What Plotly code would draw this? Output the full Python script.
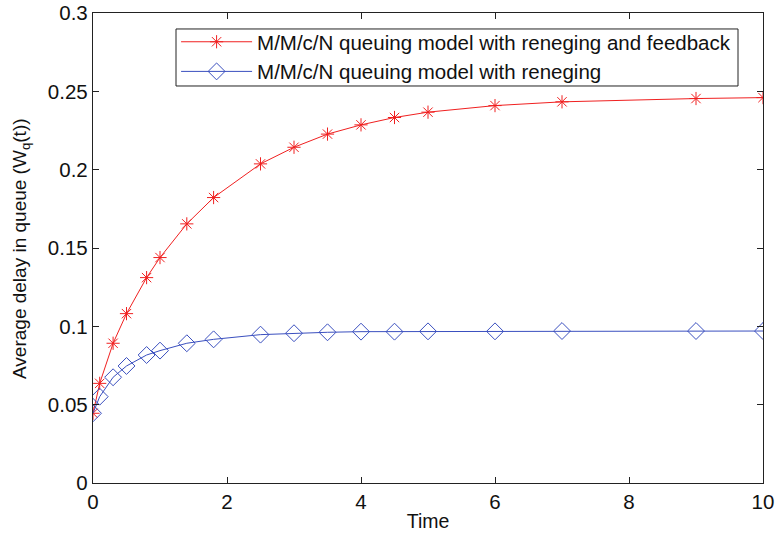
import plotly.graph_objects as go

time = [0, 0.1, 0.3, 0.5, 0.8, 1.0, 1.4, 1.8, 2.5, 3.0, 3.5, 4.0, 4.5, 5.0, 6.0, 7.0, 9.0, 10.0]
wq_feedback = [0.0445, 0.0636, 0.0892, 0.1081, 0.1311, 0.1439, 0.1654, 0.1822, 0.2037,
               0.2143, 0.2227, 0.2286, 0.2333, 0.2367, 0.2409, 0.2433, 0.2454, 0.2460]
wq_reneging = [0.0445, 0.0551, 0.0675, 0.0747, 0.0817, 0.0845, 0.0892, 0.0917, 0.0947,
               0.0956, 0.0962, 0.0966, 0.0966, 0.0968, 0.0968, 0.0970, 0.0970, 0.0970]
names = ["M/M/c/N queuing model with reneging and feedback",
         "M/M/c/N queuing model with reneging"]
x_ticks = [0, 2, 4, 6, 8, 10]
y_ticks = [0, 0.05, 0.1, 0.15, 0.2, 0.25, 0.3]
y_ticktext = ["0", "0.05", "0.1", "0.15", "0.2", "0.25", "0.3"]
x_title = "Time"
y_title = "Average delay in queue (W<sub>q</sub>(t))"

FONT = "Liberation Sans, Arial, Helvetica, sans-serif"
RED = "#f02020"
BLUE = "#3a4fbf"
DARK = "#222222"

fig = go.Figure()
fig.add_trace(go.Scatter(
    x=time, y=wq_feedback, mode="lines+markers", name=names[0],
    line=dict(color=RED, width=1),
    marker=dict(symbol="asterisk-open", size=11, color=RED, line=dict(color=RED, width=1)),
))
fig.add_trace(go.Scatter(
    x=time, y=wq_reneging, mode="lines+markers", name=names[1],
    line=dict(color=BLUE, width=1),
    marker=dict(symbol="diamond-open", size=13, color=BLUE, line=dict(color=BLUE, width=1)),
))

axis_common = dict(
    showgrid=False, zeroline=False, showline=True, linecolor=DARK, linewidth=1.3,
    mirror="ticks", ticks="inside", ticklen=6, tickcolor=DARK, tickwidth=1,
    tickfont=dict(family=FONT, size=20.5, color="#111111"),
    automargin=False, ticklabeloverflow="allow",
)

# legend frame (matlab-style box around the legend entries)
fig.add_shape(type="rect", xref="paper", yref="paper",
              x0=0.1239, x1=0.9627, y0=0.8447, y1=0.966,
              line=dict(color=DARK, width=1), fillcolor="white", layer="above")

fig.add_annotation(text=y_title, textangle=-90, xref="paper", yref="paper",
                   x=-0.1075, y=0.5, xanchor="center", yanchor="middle",
                   showarrow=False, font=dict(family=FONT, size=19, color="#111111"))

fig.update_layout(
    width=778, height=535,
    margin=dict(l=93, r=15, t=13, b=52),
    paper_bgcolor="white", plot_bgcolor="white",
    font=dict(family=FONT, size=20, color="#111111"),
    xaxis=dict(range=[0, 10], tickvals=x_ticks,
               title=dict(text=x_title, font=dict(family=FONT, size=19.5), standoff=2),
               **axis_common),
    yaxis=dict(range=[0, 0.3], tickvals=y_ticks, ticktext=y_ticktext, **axis_common),
    legend=dict(x=0.124, xanchor="left", y=0.981, yanchor="top",
                bgcolor="rgba(0,0,0,0)", borderwidth=0,
                font=dict(family=FONT, size=20.5, color="#111111"),
                itemwidth=71, tracegroupgap=0),
    showlegend=True,
)

# remove the default page margin so the 778x535 figure fills the window exactly
fig.write_html("out.html", config={"displayModeBar": False},
               post_script="document.body.style.margin='0';")
